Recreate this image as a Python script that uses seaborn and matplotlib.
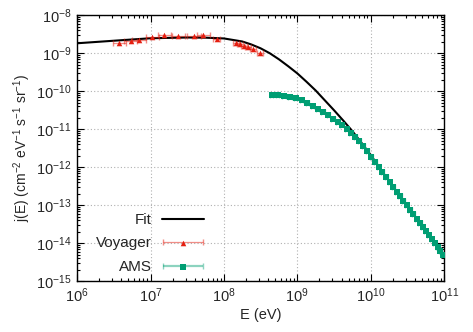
import numpy as np
import pandas as pd
import matplotlib
matplotlib.use("Agg")
import matplotlib.pyplot as plt
import seaborn as sns
from matplotlib.ticker import LogLocator, NullFormatter
from matplotlib.container import ErrorbarContainer
from matplotlib.legend_handler import HandlerTuple, HandlerErrorbar

# values (log10 of E in eV, log10 of j)
fit_logE = [6.0, 6.5, 7.0, 7.5, 7.75, 8.0, 8.25, 8.375, 8.5, 8.625, 8.75, 8.875,
            9.0, 9.125, 9.25, 9.375, 9.5, 9.625, 9.75, 9.875, 10.0, 10.25,
            10.5, 10.75, 11.0]
fit_logj = [-8.737, -8.67, -8.605, -8.585, -8.59, -8.61, -8.69, -8.77, -8.87,
            -9.00, -9.16, -9.34, -9.53, -9.75, -9.98, -10.24, -10.50, -10.77,
            -11.05, -11.36, -11.68, -12.37, -13.03, -13.68, -14.34]

voyager_logE = [6.573, 6.729, 6.842, 7.023, 7.187, 7.378, 7.592, 7.719, 7.902,
                8.161, 8.220, 8.278, 8.325, 8.401, 8.493]
voyager_logj = [-8.721, -8.684, -8.642, -8.579, -8.518, -8.537, -8.545, -8.526,
                -8.616, -8.721, -8.755, -8.808, -8.826, -8.895, -8.984]
voyager_xerr_dex = [0.09, 0.09, 0.09, 0.09, 0.09, 0.09, 0.09, 0.09, 0.05,
                    0.04, 0.04, 0.04, 0.04, 0.04, 0.04]

ams_logE = [8.65, 8.735, 8.82, 8.90, 8.98, 9.06, 9.135, 9.21, 9.28, 9.35, 9.42,
            9.485, 9.55, 9.61, 9.67, 9.73, 9.79, 9.845, 9.90, 9.955, 10.01,
            10.06, 10.11, 10.16, 10.21, 10.26, 10.31, 10.355, 10.40, 10.445,
            10.49, 10.535, 10.58, 10.625, 10.67, 10.71, 10.75, 10.79, 10.83,
            10.87, 10.91, 10.95, 10.99]
ams_logj = [-10.09, -10.10, -10.12, -10.14, -10.17, -10.24, -10.31, -10.39,
            -10.46, -10.54, -10.63, -10.72, -10.81, -10.89, -11.00, -11.10,
            -11.21, -11.32, -11.45, -11.58, -11.72, -11.87, -12.00, -12.13,
            -12.26, -12.40, -12.53, -12.64, -12.76, -12.88, -13.00, -13.12,
            -13.24, -13.36, -13.47, -13.58, -13.68, -13.79, -13.89, -14.00,
            -14.10, -14.21, -14.32]
ams_xerr_dex = 0.022

fit = pd.DataFrame({"E": 10.0 ** np.array(fit_logE), "j": 10.0 ** np.array(fit_logj)})
voy = pd.DataFrame({"E": 10.0 ** np.array(voyager_logE), "j": 10.0 ** np.array(voyager_logj),
                    "d": voyager_xerr_dex})
ams = pd.DataFrame({"E": 10.0 ** np.array(ams_logE), "j": 10.0 ** np.array(ams_logj)})

sns.set_style("ticks")
plt.rcParams["font.family"] = ["Liberation Sans", "DejaVu Sans"]
plt.rcParams["mathtext.default"] = "regular"

red = "#e51e10"
green = "#009e73"

fig = plt.figure(figsize=(4.73, 3.32), dpi=100)
ax = fig.add_axes([0.163, 0.153, 0.776, 0.801])
ax.set_xscale("log")
ax.set_yscale("log")

sns.lineplot(data=fit, x="E", y="j", color="black", lw=1.5, ax=ax, zorder=2)
fit_line = ax.lines[-1]

# Voyager with horizontal error bars
xlo = voy["E"] - voy["E"] * 10.0 ** (-voy["d"])
xhi = voy["E"] * 10.0 ** voy["d"] - voy["E"]
eb_v = ax.errorbar(voy["E"], voy["j"], xerr=[xlo, xhi], fmt="none",
                   ecolor=red, alpha=0.5, elinewidth=0.9, capsize=2, zorder=3)
sns.scatterplot(data=voy, x="E", y="j", marker="^", color=red, s=16,
                linewidth=0, ax=ax, zorder=4)
sc_v = ax.collections[-1]

# AMS
alo = ams["E"] - ams["E"] * 10.0 ** (-ams_xerr_dex)
ahi = ams["E"] * 10.0 ** ams_xerr_dex - ams["E"]
eb_a = ax.errorbar(ams["E"], ams["j"], xerr=[alo, ahi], fmt="none",
                   ecolor=green, alpha=0.45, elinewidth=1.6, capsize=2, zorder=3)
sns.scatterplot(data=ams, x="E", y="j", marker="s", color=green, s=14,
                linewidth=0, ax=ax, zorder=4)
sc_a = ax.collections[-1]

ax.set_xlim(1e6, 1e11)
ax.set_ylim(1e-15, 1e-8)
ax.xaxis.set_major_locator(LogLocator(base=10, numticks=20))
ax.yaxis.set_major_locator(LogLocator(base=10, numticks=20))
ax.xaxis.set_minor_locator(LogLocator(base=10, subs=np.arange(2, 10), numticks=20))
ax.yaxis.set_minor_locator(LogLocator(base=10, subs=np.arange(2, 10), numticks=20))
ax.xaxis.set_minor_formatter(NullFormatter())
ax.yaxis.set_minor_formatter(NullFormatter())
ax.tick_params(which="both", direction="in", top=True, right=True, labelsize=10.5,
               color="black", width=0.8)
ax.tick_params(which="major", length=5, pad=4)
ax.tick_params(which="minor", length=2.5)
ax.grid(True, which="major", ls=(0, (1, 2)), color="#b0b0b0", lw=0.8)
for s in ax.spines.values():
    s.set_color("black")
    s.set_linewidth(1.0)

ax.set_xlabel("E (eV)", fontsize=10.5, labelpad=2)
ax.set_ylabel("j(E) (cm$^{-2}$ eV$^{-1}$ s$^{-1}$ sr$^{-1}$)", fontsize=10, labelpad=2)

ax.legend([fit_line, (eb_v, sc_v), (eb_a, sc_a)], ["Fit", "Voyager", "AMS"],
          handler_map={tuple: HandlerTuple(ndivide=1),
                       ErrorbarContainer: HandlerErrorbar(xerr_size=1.3)},
          loc="lower right", bbox_to_anchor=(0.375, -0.013), frameon=False,
          markerfirst=False, fontsize=11, handlelength=2.75, labelspacing=0.62,
          handletextpad=0.65, borderaxespad=0.3)

fig.savefig("out.png", dpi=100)
